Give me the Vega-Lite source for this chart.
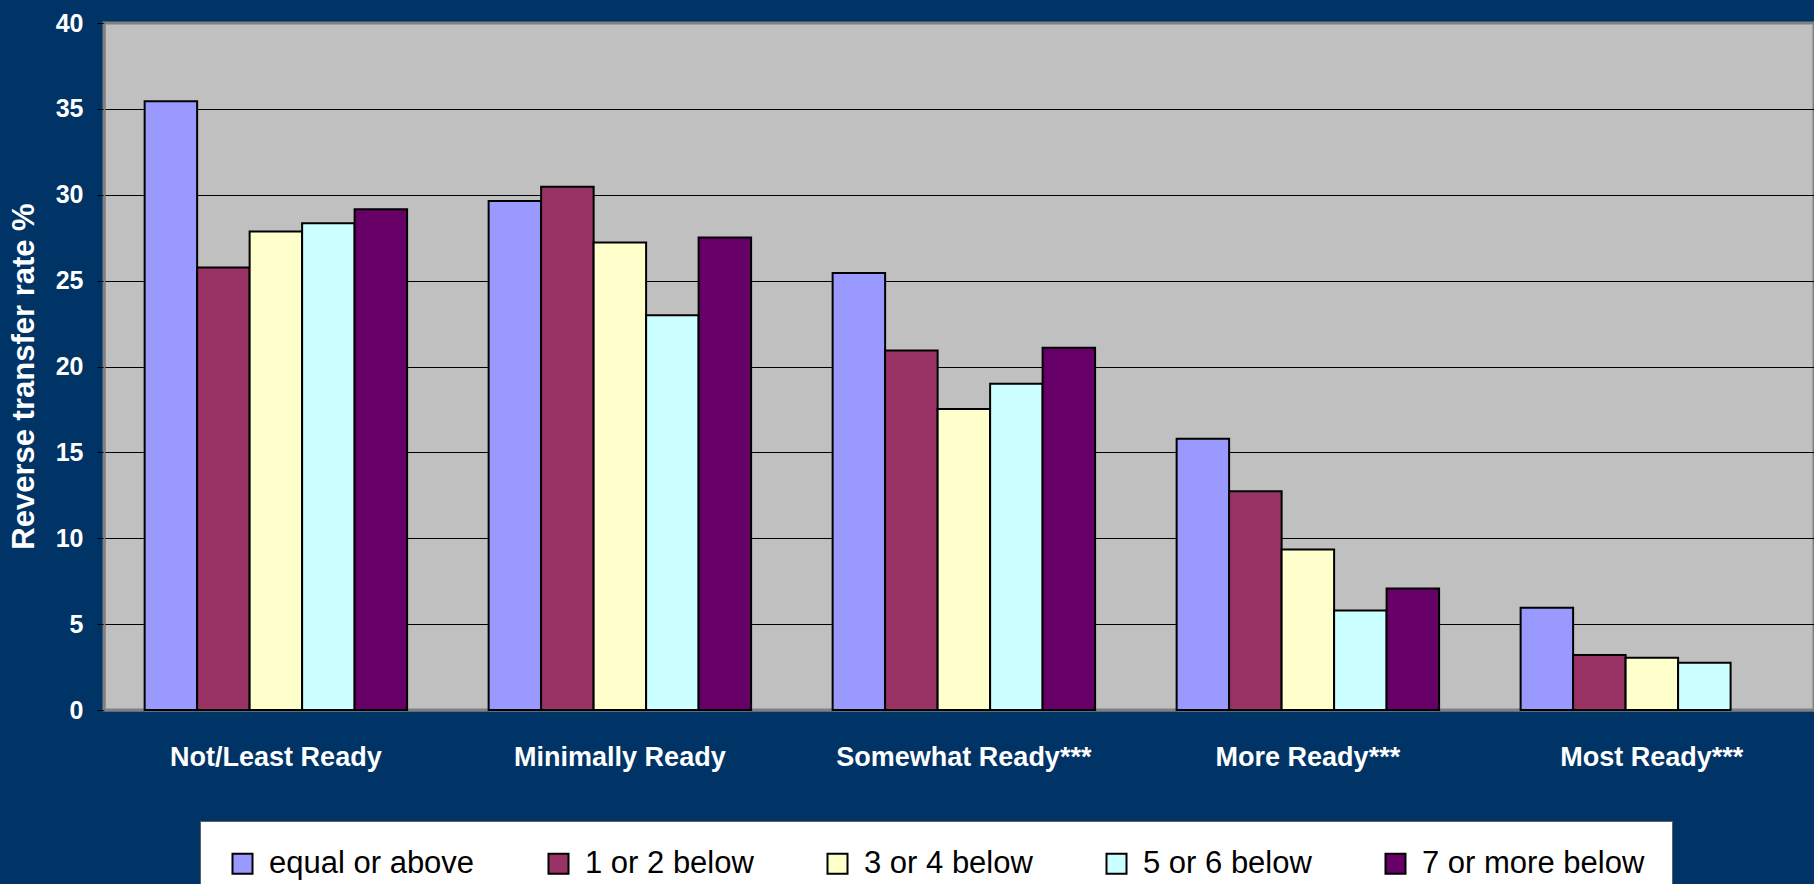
{
  "$schema": "https://vega.github.io/schema/vega-lite/v6.json",
  "autosize": "none",
  "padding": {"left": 104, "top": 23, "right": 0, "bottom": 174},
  "width": 1710,
  "height": 687,
  "background": "#003366",
  "view": {"fill": "#C0C0C0", "stroke": "#808080", "strokeWidth": 3},
  "data": {
    "values": [
      {"group": "Not/Least Ready", "series": "equal or above", "rate": 35.45},
      {"group": "Not/Least Ready", "series": "1 or 2 below", "rate": 25.77},
      {"group": "Not/Least Ready", "series": "3 or 4 below", "rate": 27.86},
      {"group": "Not/Least Ready", "series": "5 or 6 below", "rate": 28.34},
      {"group": "Not/Least Ready", "series": "7 or more below", "rate": 29.16},
      {"group": "Minimally Ready", "series": "equal or above", "rate": 29.63},
      {"group": "Minimally Ready", "series": "1 or 2 below", "rate": 30.46},
      {"group": "Minimally Ready", "series": "3 or 4 below", "rate": 27.22},
      {"group": "Minimally Ready", "series": "5 or 6 below", "rate": 22.99},
      {"group": "Minimally Ready", "series": "7 or more below", "rate": 27.51},
      {"group": "Somewhat Ready***", "series": "equal or above", "rate": 25.45},
      {"group": "Somewhat Ready***", "series": "1 or 2 below", "rate": 20.93},
      {"group": "Somewhat Ready***", "series": "3 or 4 below", "rate": 17.52},
      {"group": "Somewhat Ready***", "series": "5 or 6 below", "rate": 19.0},
      {"group": "Somewhat Ready***", "series": "7 or more below", "rate": 21.09},
      {"group": "More Ready***", "series": "equal or above", "rate": 15.8},
      {"group": "More Ready***", "series": "1 or 2 below", "rate": 12.73},
      {"group": "More Ready***", "series": "3 or 4 below", "rate": 9.34},
      {"group": "More Ready***", "series": "5 or 6 below", "rate": 5.8},
      {"group": "More Ready***", "series": "7 or more below", "rate": 7.08},
      {"group": "Most Ready***", "series": "equal or above", "rate": 5.95},
      {"group": "Most Ready***", "series": "1 or 2 below", "rate": 3.2},
      {"group": "Most Ready***", "series": "3 or 4 below", "rate": 3.04},
      {"group": "Most Ready***", "series": "5 or 6 below", "rate": 2.75}
    ]
  },
  "mark": {"type": "bar", "stroke": "black", "strokeWidth": 2, "opacity": 1},
  "encoding": {
    "x": {
      "field": "group",
      "type": "nominal",
      "sort": ["Not/Least Ready", "Minimally Ready", "Somewhat Ready***", "More Ready***", "Most Ready***"],
      "scale": {"paddingInner": 0.237, "paddingOuter": 0.104, "align": 0.568},
      "axis": {
        "title": null,
        "labelAngle": 0,
        "labelFont": "Liberation Sans",
        "labelFontWeight": "bold",
        "labelFontSize": 27,
        "labelColor": "white",
        "labelBaseline": "alphabetic",
        "labelPadding": 55,
        "labelLimit": 500,
        "ticks": false,
        "tickSize": 0,
        "domainColor": "#808080",
        "domainWidth": 2,
        "grid": false
      }
    },
    "xOffset": {
      "field": "series",
      "type": "nominal",
      "sort": ["equal or above", "1 or 2 below", "3 or 4 below", "5 or 6 below", "7 or more below"],
      "scale": {"paddingInner": 0, "paddingOuter": 0}
    },
    "y": {
      "field": "rate",
      "type": "quantitative",
      "scale": {"domain": [0, 40], "nice": false},
      "axis": {
        "title": "Reverse transfer rate %",
        "titleFont": "Liberation Sans",
        "titleFontWeight": "bold",
        "titleFontSize": 31,
        "titleColor": "white",
        "titleAngle": -90,
        "titleX": -71,
        "titleY": 353,
        "titleAlign": "center",
        "titleBaseline": "alphabetic",
        "values": [0, 5, 10, 15, 20, 25, 30, 35, 40],
        "labelFont": "Liberation Sans",
        "labelFontWeight": "bold",
        "labelFontSize": 25,
        "labelColor": "white",
        "labelPadding": 14,
        "labelBaseline": "middle",
        "tickSize": 7,
        "tickColor": "black",
        "tickWidth": 1,
        "domainColor": "#808080",
        "domainWidth": 2,
        "grid": true,
        "gridColor": {"condition": {"test": "datum.value === 40 || datum.value === 0", "value": "#808080"}, "value": "black"},
        "gridWidth": 1,
        "gridOpacity": 1
      }
    },
    "color": {
      "field": "series",
      "type": "nominal",
      "sort": ["equal or above", "1 or 2 below", "3 or 4 below", "5 or 6 below", "7 or more below"],
      "scale": {
        "domain": ["equal or above", "1 or 2 below", "3 or 4 below", "5 or 6 below", "7 or more below"],
        "range": ["#9999FF", "#993366", "#FFFFCC", "#CCFFFF", "#660066"]
      },
      "legend": {
        "title": null,
        "orient": "none",
        "legendX": 96,
        "legendY": 798,
        "direction": "horizontal",
        "columns": 5,
        "columnPadding": 68,
        "padding": 27,
        "fillColor": "white",
        "strokeColor": "#606060",
        "symbolType": "square",
        "symbolSize": 400,
        "symbolStrokeColor": "black",
        "symbolStrokeWidth": 2,
        "symbolOpacity": 1,
        "labelFont": "Liberation Sans",
        "labelFontSize": 31,
        "labelColor": "black",
        "labelOffset": 11,
        "labelLimit": 500
      }
    }
  }
}
